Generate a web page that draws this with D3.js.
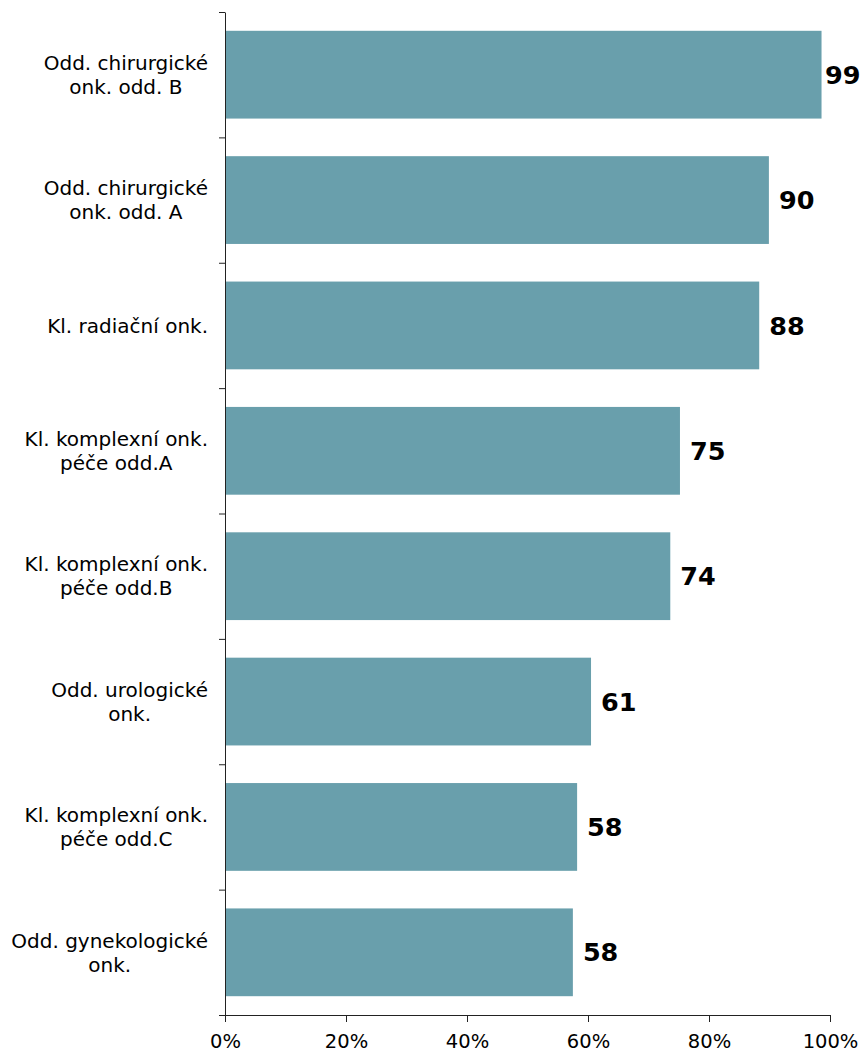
<!DOCTYPE html>
<html>
<head>
<meta charset="utf-8">
<script src="https://cdn.jsdelivr.net/npm/d3@7"></script>
<style>
  html, body { margin: 0; padding: 0; background: #fff; }
  svg { display: block; font-family: "DejaVu Sans", Verdana, sans-serif; }
</style>
</head>
<body>
<svg id="chart" width="863" height="1056"></svg>
<script>
// Department names (line breaks as drawn) and their shares in percent
const categories = [
  "Odd. chirurgické\nonk. odd. B",
  "Odd. chirurgické\nonk. odd. A",
  "Kl. radiační onk.",
  "Kl. komplexní onk.\npéče odd.A",
  "Kl. komplexní onk.\npéče odd.B",
  "Odd. urologické\nonk.",
  "Kl. komplexní onk.\npéče odd.C",
  "Odd. gynekologické\nonk."
];
const values = [98.6, 89.9, 88.3, 75.2, 73.6, 60.5, 58.2, 57.5];
const xTicks = [0, 20, 40, 60, 80, 100];

const W = 863, H = 1056;
const margin = { top: 12, right: 33, bottom: 41, left: 225 };

const svg = d3.select("#chart");

const x = d3.scaleLinear()
  .domain([0, 100])
  .range([margin.left, W - margin.right]);

const y = d3.scaleBand()
  .domain(d3.range(categories.length))
  .range([margin.top, H - margin.bottom])
  .paddingInner(0.3)
  .paddingOuter(0.15);

// Boundaries between categories carry the y-axis ticks
const yEdge = d3.scaleLinear()
  .domain([0, categories.length])
  .range([margin.top, H - margin.bottom]);

const barColor = "#699fac";
const axisColor = "#222";

// Bars
svg.append("g")
  .selectAll("rect")
  .data(values)
  .join("rect")
  .attr("x", x(0))
  .attr("y", (d, i) => y(i))
  .attr("width", d => x(d) - x(0))
  .attr("height", y.bandwidth())
  .attr("fill", barColor);

// Value labels
const fmt = d3.format(".0f");
svg.append("g")
  .selectAll("text")
  .data(values)
  .join("text")
  .attr("x", d => Math.min(x(d) + 10, W - 38))
  .attr("y", (d, i) => y(i) + y.bandwidth() / 2)
  .attr("dy", "0.36em")
  .attr("font-size", 25.5)
  .attr("font-weight", "bold")
  .attr("fill", "#000")
  .text(d => fmt(d));

// Y axis: line with ticks at category boundaries
const yAxis = svg.append("g")
  .attr("transform", `translate(${x(0)},0)`)
  .call(d3.axisLeft(yEdge)
    .tickValues(d3.range(categories.length + 1))
    .tickFormat("")
    .tickSize(6)
    .tickSizeOuter(0));
yAxis.selectAll("path, line").attr("stroke", axisColor);

// X axis
const xAxis = svg.append("g")
  .attr("transform", `translate(0,${H - margin.bottom})`)
  .call(d3.axisBottom(x)
    .tickValues(xTicks)
    .tickFormat(d => d + "%")
    .tickSize(7)
    .tickSizeOuter(0));
xAxis.select(".domain").attr("stroke", axisColor);
xAxis.selectAll(".tick line").attr("stroke", axisColor);
xAxis.selectAll(".tick text")
  .attr("font-family", "DejaVu Sans, Verdana, sans-serif")
  .attr("font-size", 19.5)
  .attr("fill", "#000")
  .attr("y", 19)
  .attr("dy", "0.71em");

// Category labels: block right-aligned to the axis, lines centred within the block
const labelRight = 208;
const lineH = 24;
const labels = svg.append("g")
  .attr("font-size", 20)
  .attr("fill", "#000");

categories.forEach((c, i) => {
  const lines = c.split("\n");
  const g = labels.append("g");
  const texts = lines.map(l => g.append("text").text(l));
  const maxW = d3.max(texts, t => t.node().getComputedTextLength());
  const cx = labelRight - maxW / 2;
  const cy = y(i) + y.bandwidth() / 2;
  const y0 = cy - (lines.length - 1) * lineH / 2;
  texts.forEach((t, k) => {
    t.attr("x", cx)
      .attr("y", y0 + k * lineH)
      .attr("dy", "0.36em")
      .attr("text-anchor", "middle");
  });
});
</script>
</body>
</html>
